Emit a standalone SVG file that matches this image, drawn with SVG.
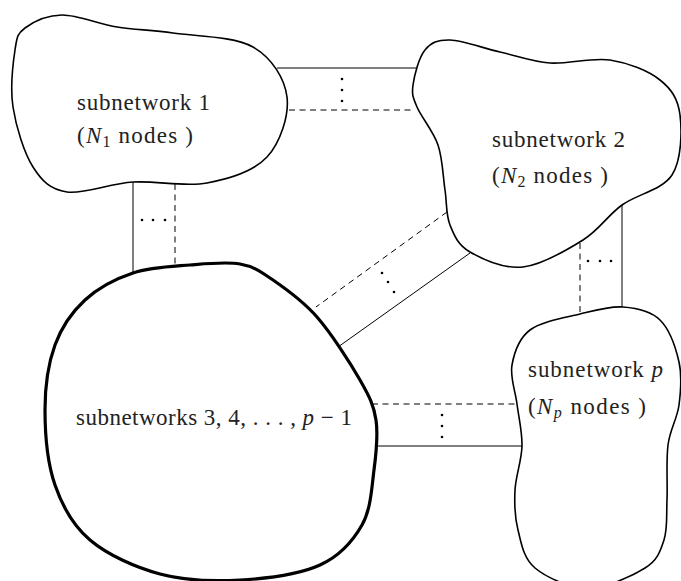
<svg xmlns="http://www.w3.org/2000/svg" width="681" height="581" viewBox="0 0 681 581">
  <style>
    .blob { fill: #ffffff; stroke: #000000; stroke-width: 1.6; stroke-linejoin: round; }
    .blob.thick { stroke-width: 3.2; }
    .link { stroke: #000000; stroke-width: 1; fill: none; }
    .link.dashed { stroke-dasharray: 6 4.5; }
    .dot { fill: #000000; }
    .label { font-family: "Liberation Serif", "DejaVu Serif", serif; font-size: 23px; fill: #222222; }
    .math { font-style: italic; }
    .sub { font-size: 16px; }
  </style>

  <!-- connectors between the subnetworks -->
  <g id="connectors">
    <!-- 1 to 2 -->
    <line class="link" x1="277" y1="68" x2="417" y2="68"/>
    <line class="link dashed" x1="289" y1="110" x2="413" y2="110"/>
    <circle class="dot" cx="342" cy="79" r="1.3"/>
    <circle class="dot" cx="342" cy="90" r="1.3"/>
    <circle class="dot" cx="342" cy="101" r="1.3"/>
    <!-- 1 to 3 -->
    <line class="link" x1="133" y1="182" x2="133" y2="273"/>
    <line class="link dashed" x1="175" y1="184" x2="175" y2="266"/>
    <circle class="dot" cx="142" cy="220" r="1.3"/>
    <circle class="dot" cx="153" cy="220" r="1.3"/>
    <circle class="dot" cx="165" cy="220" r="1.3"/>
    <!-- 2 to 3 -->
    <line class="link dashed" x1="447" y1="212" x2="316" y2="307"/>
    <line class="link" x1="470" y1="253" x2="338" y2="347"/>
    <circle class="dot" cx="382" cy="273" r="1.3"/>
    <circle class="dot" cx="388" cy="282" r="1.3"/>
    <circle class="dot" cx="394" cy="292" r="1.3"/>
    <!-- 2 to p -->
    <line class="link" x1="622" y1="205" x2="622" y2="307"/>
    <line class="link dashed" x1="580" y1="243" x2="580" y2="314"/>
    <circle class="dot" cx="588" cy="261" r="1.3"/>
    <circle class="dot" cx="600" cy="261" r="1.3"/>
    <circle class="dot" cx="611" cy="261" r="1.3"/>
    <!-- 3 to p -->
    <line class="link dashed" x1="372" y1="404" x2="517" y2="404"/>
    <line class="link" x1="375" y1="446" x2="522" y2="446"/>
    <circle class="dot" cx="442" cy="415" r="1.3"/>
    <circle class="dot" cx="442" cy="426" r="1.3"/>
    <circle class="dot" cx="442" cy="437" r="1.3"/>
  </g>

  <g id="subnetwork-1">
    <path class="blob" d="M25,28 C32.8,22.2 46.7,15.2 62,15 C77.3,14.8 98.5,24 117,27 C135.5,30 150.3,29.7 173,33 C195.7,36.3 234,36.3 253,47 C272,57.7 284.7,78.7 287,97 C289.3,115.3 280.3,142.7 267,157 C253.7,171.3 229.3,178.8 207,183 C184.7,187.2 156.3,180.5 133,182 C109.7,183.5 83.7,194.5 67,192 C50.3,189.5 42,181.2 33,167 C24,152.8 16,126.5 13,107 C10,87.5 13,63.2 15,50 C17,36.8 17.2,33.8 25,28 Z"/>
    <text class="label" x="77" y="110" textLength="133">subnetwork 1</text>
    <text class="label" x="77" y="143" textLength="116">(<tspan class="math">N</tspan><tspan class="sub" dy="4">1</tspan><tspan dy="-4"> nodes )</tspan></text>
  </g>

  <g id="subnetwork-2">
    <path class="blob" d="M413,85 C414.3,75.5 418.8,57.5 425,50 C431.2,42.5 437.5,39.7 450,40 C462.5,40.3 483.3,48.2 500,52 C516.7,55.8 531.7,61.7 550,63 C568.3,64.3 591.7,57.2 610,60 C628.3,62.8 648.3,70.8 660,80 C671.7,89.2 678,99.2 680,115 C682,130.8 681.7,160 672,175 C662.3,190 636.8,194.2 622,205 C607.2,215.8 599.5,229.7 583,240 C566.5,250.3 541.8,265 523,267 C504.2,269 482.2,259 470,252 C457.8,245 454.2,235.3 450,225 C445.8,214.7 447,203.3 445,190 C443,176.7 442.7,158.8 438,145 C433.3,131.2 421.2,117 417,107 C412.8,97 411.7,94.5 413,85 Z"/>
    <text class="label" x="492" y="147" textLength="133">subnetwork 2</text>
    <text class="label" x="492" y="183" textLength="116">(<tspan class="math">N</tspan><tspan class="sub" dy="4">2</tspan><tspan dy="-4"> nodes )</tspan></text>
  </g>

  <g id="subnetworks-3-to-p-1">
    <path class="blob thick" d="M133,273 C150.5,267.2 172.2,266.5 190,265 C207.8,263.5 226.2,261.5 240,264 C253.8,266.5 260.2,271.2 273,280 C285.8,288.8 302.5,300.3 317,317 C331.5,333.7 350.2,362.8 360,380 C369.8,397.2 373.7,405 376,420 C378.3,435 376.3,452.5 374,470 C371.7,487.5 371,509.2 362,525 C353,540.8 340.3,555.8 320,565 C299.7,574.2 266.7,578.5 240,580 C213.3,581.5 185,580.7 160,574 C135,567.3 107.5,554.8 90,540 C72.5,525.2 62.5,506.7 55,485 C47.5,463.3 45,433.3 45,410 C45,386.7 48.3,363.3 55,345 C61.7,326.7 72,312 85,300 C98,288 115.5,278.8 133,273 Z"/>
    <text class="label" x="76" y="425" textLength="276">subnetworks 3, 4, . . . , <tspan class="math">p</tspan> − 1</text>
  </g>

  <g id="subnetwork-p">
    <path class="blob" d="M530,330 C541.3,321.5 564.5,317.8 580,314 C595.5,310.2 609.7,306 623,307 C636.3,308 650.7,310.8 660,320 C669.3,329.2 675.8,347.8 679,362 C682.2,376.2 680.8,391.2 679,405 C677.2,418.8 670,429.2 668,445 C666,460.8 667.7,484.2 667,500 C666.3,515.8 667.7,528.7 664,540 C660.3,551.3 657.7,560 645,568 C632.3,576 606.3,588 588,588 C569.7,588 546.7,577.7 535,568 C523.3,558.3 521.3,543 518,530 C514.7,517 514.3,504 515,490 C515.7,476 521.7,460.3 522,446 C522.3,431.7 518.7,417.5 517,404 C515.3,390.5 509.8,377.3 512,365 C514.2,352.7 518.7,338.5 530,330 Z"/>
    <text class="label" x="528" y="377" textLength="135">subnetwork <tspan class="math">p</tspan></text>
    <text class="label" x="528" y="414" textLength="118">(<tspan class="math">N</tspan><tspan class="sub math" dy="4">p</tspan><tspan dy="-4"> nodes )</tspan></text>
  </g>
</svg>
